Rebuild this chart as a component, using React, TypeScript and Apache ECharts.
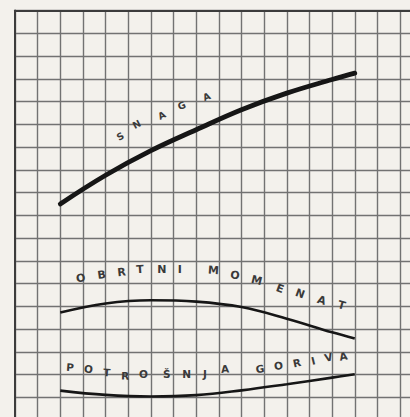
import React, { useEffect, useRef } from "react";
import * as echarts from "echarts";

// Data in grid-cell units (x: cells from left border, y: cells from bottom)
const xCells = [2, 4, 6, 8, 10, 12, 14, 15];
const snaga = [9.5, 10.76, 11.84, 12.76, 13.64, 14.37, 14.97, 15.25];
const obrtniMomenat = [4.73, 5.13, 5.27, 5.21, 4.97, 4.46, 3.86, 3.59];
const potrosnjaGoriva = [1.3, 1.11, 1.04, 1.1, 1.31, 1.58, 1.87, 2.02];

const axisMin = 0;
const axisMax = 18;

// Label letters (text only)
const snagaLetters = ["S", "N", "A", "G", "A"];
const momenatLetters = ["O", "B", "R", "T", "N", "I", "M", "O", "M", "E", "N", "A", "T"];
const gorivaLetters = ["P", "O", "T", "R", "O", "Š", "N", "J", "A", "G", "O", "R", "I", "V", "A"];

// Label layout (in grid units), kept apart from data
const snagaLayout = {
  x: [4.64, 5.37, 6.48, 7.36, 8.46],
  y: [12.47, 13.0, 13.4, 13.83, 14.22],
  rot: [30, 28, 26, 24, 22],
  size: 9.5,
};
const momenatLayout = {
  x: [2.9, 3.83, 4.71, 5.52, 6.48, 7.28, 8.76, 9.71, 10.67, 11.7, 12.58, 13.54, 14.42],
  y: [6.24, 6.38, 6.5, 6.62, 6.62, 6.62, 6.58, 6.36, 6.14, 5.77, 5.55, 5.26, 5.04],
  rot: [10, 8, 6, 4, 0, 0, -4, -10, -14, -20, -20, -18, -16],
  size: 11,
};
const gorivaLayout = {
  x: [2.43, 3.24, 4.05, 4.86, 5.67, 6.7, 7.58, 8.39, 9.27, 10.82, 11.63, 12.44, 13.17, 13.84, 14.5],
  y: [2.33, 2.26, 2.11, 1.96, 2.04, 2.04, 2.04, 2.04, 2.26, 2.26, 2.4, 2.52, 2.62, 2.77, 2.81],
  rot: [-4, -4, -4, -2, 0, 0, 0, 0, 4, 8, 10, 12, 14, 14, 10],
  size: 10.5,
};

const BG = "#f3f1ec";
const INK = "#161616";

function pair(xs: number[], ys: number[]) {
  return xs.map((x, i) => [x, ys[i]]);
}

export default function App() {
  const ref = useRef<HTMLDivElement>(null);

  useEffect(() => {
    document.body.style.margin = "0";
    document.body.style.background = BG;
    const chart = echarts.init(ref.current!, undefined, { renderer: "svg" });
    const axisCommon = {
      type: "value" as const,
      min: axisMin,
      max: axisMax,
      interval: 1,
      axisTick: { show: false },
      axisLabel: { show: false },
      splitLine: { show: true, lineStyle: { color: "#727272", width: 1.4 } },
    };
    chart.setOption({
      animation: false,
      backgroundColor: BG,
      grid: { left: 15, top: 10.5, width: 18 * 22.65, height: 18 * 22.76 },
      xAxis: {
        ...axisCommon,
        position: "top",
        axisLine: { show: true, onZero: false, lineStyle: { color: "#3c3c3c", width: 2 } },
      },
      yAxis: {
        ...axisCommon,
        position: "left",
        axisLine: { show: true, onZero: false, lineStyle: { color: "#3c3c3c", width: 2 } },
      },
      series: [
        {
          name: "SNAGA",
          type: "line",
          data: pair(xCells, snaga),
          smooth: 0.4,
          showSymbol: false,
          lineStyle: { color: INK, width: 4.8, cap: "round" },
        },
        {
          name: "OBRTNI MOMENAT",
          type: "line",
          data: pair(xCells, obrtniMomenat),
          smooth: 0.4,
          showSymbol: false,
          lineStyle: { color: INK, width: 2.6 },
        },
        {
          name: "POTROŠNJA GORIVA",
          type: "line",
          data: pair(xCells, potrosnjaGoriva),
          smooth: 0.4,
          showSymbol: false,
          lineStyle: { color: INK, width: 2.6 },
        },
      ],
    });

    const makeLetters = (letters: string[], layout: { x: number[]; y: number[]; rot: number[]; size: number }) =>
      letters.map((ch, i) => {
        const p = chart.convertToPixel({ gridIndex: 0 }, [layout.x[i], layout.y[i]]) as number[];
        return {
          type: "text",
          x: p[0],
          y: p[1],
          rotation: (layout.rot[i] * Math.PI) / 180,
          z: 10,
          style: {
            text: ch,
            fill: "#3a3a3a",
            fontSize: layout.size,
            fontWeight: "bold",
            fontFamily: "DejaVu Sans",
            align: "center",
            verticalAlign: "middle",
          },
        };
      });

    chart.setOption({
      graphic: [
        ...makeLetters(snagaLetters, snagaLayout),
        ...makeLetters(momenatLetters, momenatLayout),
        ...makeLetters(gorivaLetters, gorivaLayout),
      ],
    });

    return () => chart.dispose();
  }, []);

  return (
    <div style={{ position: "absolute", left: 0, top: 0, width: 410, height: 417, overflow: "hidden", background: BG }}>
      <div ref={ref} style={{ width: 450, height: 450 }} />
    </div>
  );
}
